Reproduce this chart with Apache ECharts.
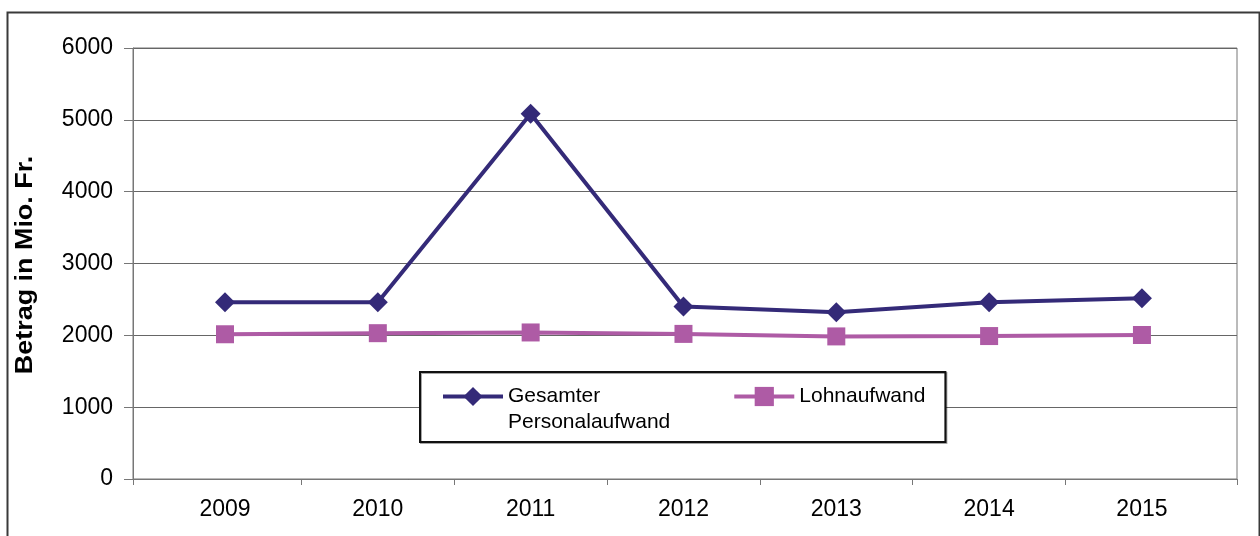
<!DOCTYPE html>
<html>
<head>
<meta charset="utf-8">
<script src="https://cdn.jsdelivr.net/npm/echarts@6/dist/echarts.min.js"></script>
<style>
html,body{margin:0;padding:0;background:#fff;}
#c{width:1260px;height:536px;}
</style>
</head>
<body>
<div id="c"></div>
<script>
// ---- data ----
const years = [2009, 2010, 2011, 2012, 2013, 2014, 2015];
const gesamterPersonalaufwand = [2460, 2460, 5085, 2400, 2320, 2460, 2515];
const lohnaufwand = [2015, 2030, 2040, 2020, 1985, 1990, 2005];
const yTicks = [0, 1000, 2000, 3000, 4000, 5000, 6000];
const seriesNames = ['Gesamter Personalaufwand', 'Lohnaufwand'];
const legendLines = {'Gesamter Personalaufwand': ['Gesamter', 'Personalaufwand']};
const yTitle = 'Betrag in Mio. Fr.';

const FONT = '"Liberation Sans", Arial, sans-serif';
const xMin = 2008.398, xMax = 2015.622;
const tickVals = [xMin].concat(years.slice(0, -1).map(y => y + 0.5)).concat([xMax]);

const chart = echarts.init(document.getElementById('c'), null, {renderer: 'canvas'});
chart.setOption({
  animation: false,
  backgroundColor: '#ffffff',
  textStyle: {fontFamily: FONT},
  grid: {left: 133, top: 48, right: 23, bottom: 57, show: true, borderColor: '#777', borderWidth: 1},
  xAxis: {
    type: 'value', min: xMin, max: xMax,
    axisLine: {show: true, lineStyle: {color: '#777', width: 1}},
    axisTick: {show: true, length: 6, lineStyle: {color: '#777'}, customValues: tickVals},
    axisLabel: {customValues: years, margin: 19, fontSize: 23, color: '#000', fontFamily: FONT,
      formatter: v => String(Math.round(v))},
    splitLine: {show: false}
  },
  yAxis: {
    type: 'value', min: yTicks[0], max: yTicks[yTicks.length - 1], interval: 1000,
    axisLine: {show: true, lineStyle: {color: '#777', width: 1}},
    axisTick: {show: true, length: 9, lineStyle: {color: '#777'}},
    axisLabel: {margin: 20, fontSize: 23, color: '#000', fontFamily: FONT, padding: [5, 0, 0, 0],
      formatter: v => String(v)},
    splitLine: {show: true, lineStyle: {color: '#666', width: 1}}
  },
  legend: {
    left: 420, top: 372,
    orient: 'horizontal',
    backgroundColor: '#fff',
    borderColor: '#111', borderWidth: 2,
    shadowColor: 'rgba(0,0,0,0.35)', shadowOffsetX: 1, shadowOffsetY: 1, shadowBlur: 0,
    padding: [-12, 20, 9, 21],
    itemWidth: 60, itemHeight: 24, itemGap: 62,
    lineStyle: {width: 4},
    textStyle: {fontSize: 21, color: '#000', fontFamily: FONT,
      rich: {
        h: {fontSize: 21, lineHeight: 26, color: 'rgba(0,0,0,0)', fontFamily: FONT},
        a: {fontSize: 21, lineHeight: 26, color: '#000', fontFamily: FONT}
      }},
    formatter: function (name) {
      const lines = legendLines[name];
      if (lines) {
        return '{h|.}\n' + lines.map(l => '{a|' + l + '}').join('\n');
      }
      return '{a|' + name + '}';
    },
    data: seriesNames
  },
  graphic: [
    {type: 'rect', left: 5, top: 10, z: 100, silent: true,
     shape: {width: 1252, height: 540},
     style: {fill: 'none', stroke: '#3a3a3a', lineWidth: 2}},
    {type: 'text', x: 26, y: 265, rotation: Math.PI / 2, scaleX: 1.17, z: 100,
     style: {text: yTitle, font: 'bold 23px ' + FONT, fill: '#000', align: 'center', verticalAlign: 'middle'}}
  ],
  series: [
    {
      name: seriesNames[0], type: 'line',
      data: years.map((y, i) => [y, gesamterPersonalaufwand[i]]),
      symbol: 'diamond', symbolSize: 20,
      lineStyle: {color: '#342a78', width: 4},
      itemStyle: {color: '#342a78'},
      z: 3
    },
    {
      name: seriesNames[1], type: 'line',
      data: years.map((y, i) => [y, lohnaufwand[i]]),
      symbol: 'rect', symbolSize: 18,
      lineStyle: {color: '#ae5ba5', width: 4},
      itemStyle: {color: '#ae5ba5'},
      z: 2
    }
  ]
});
</script>
</body>
</html>
